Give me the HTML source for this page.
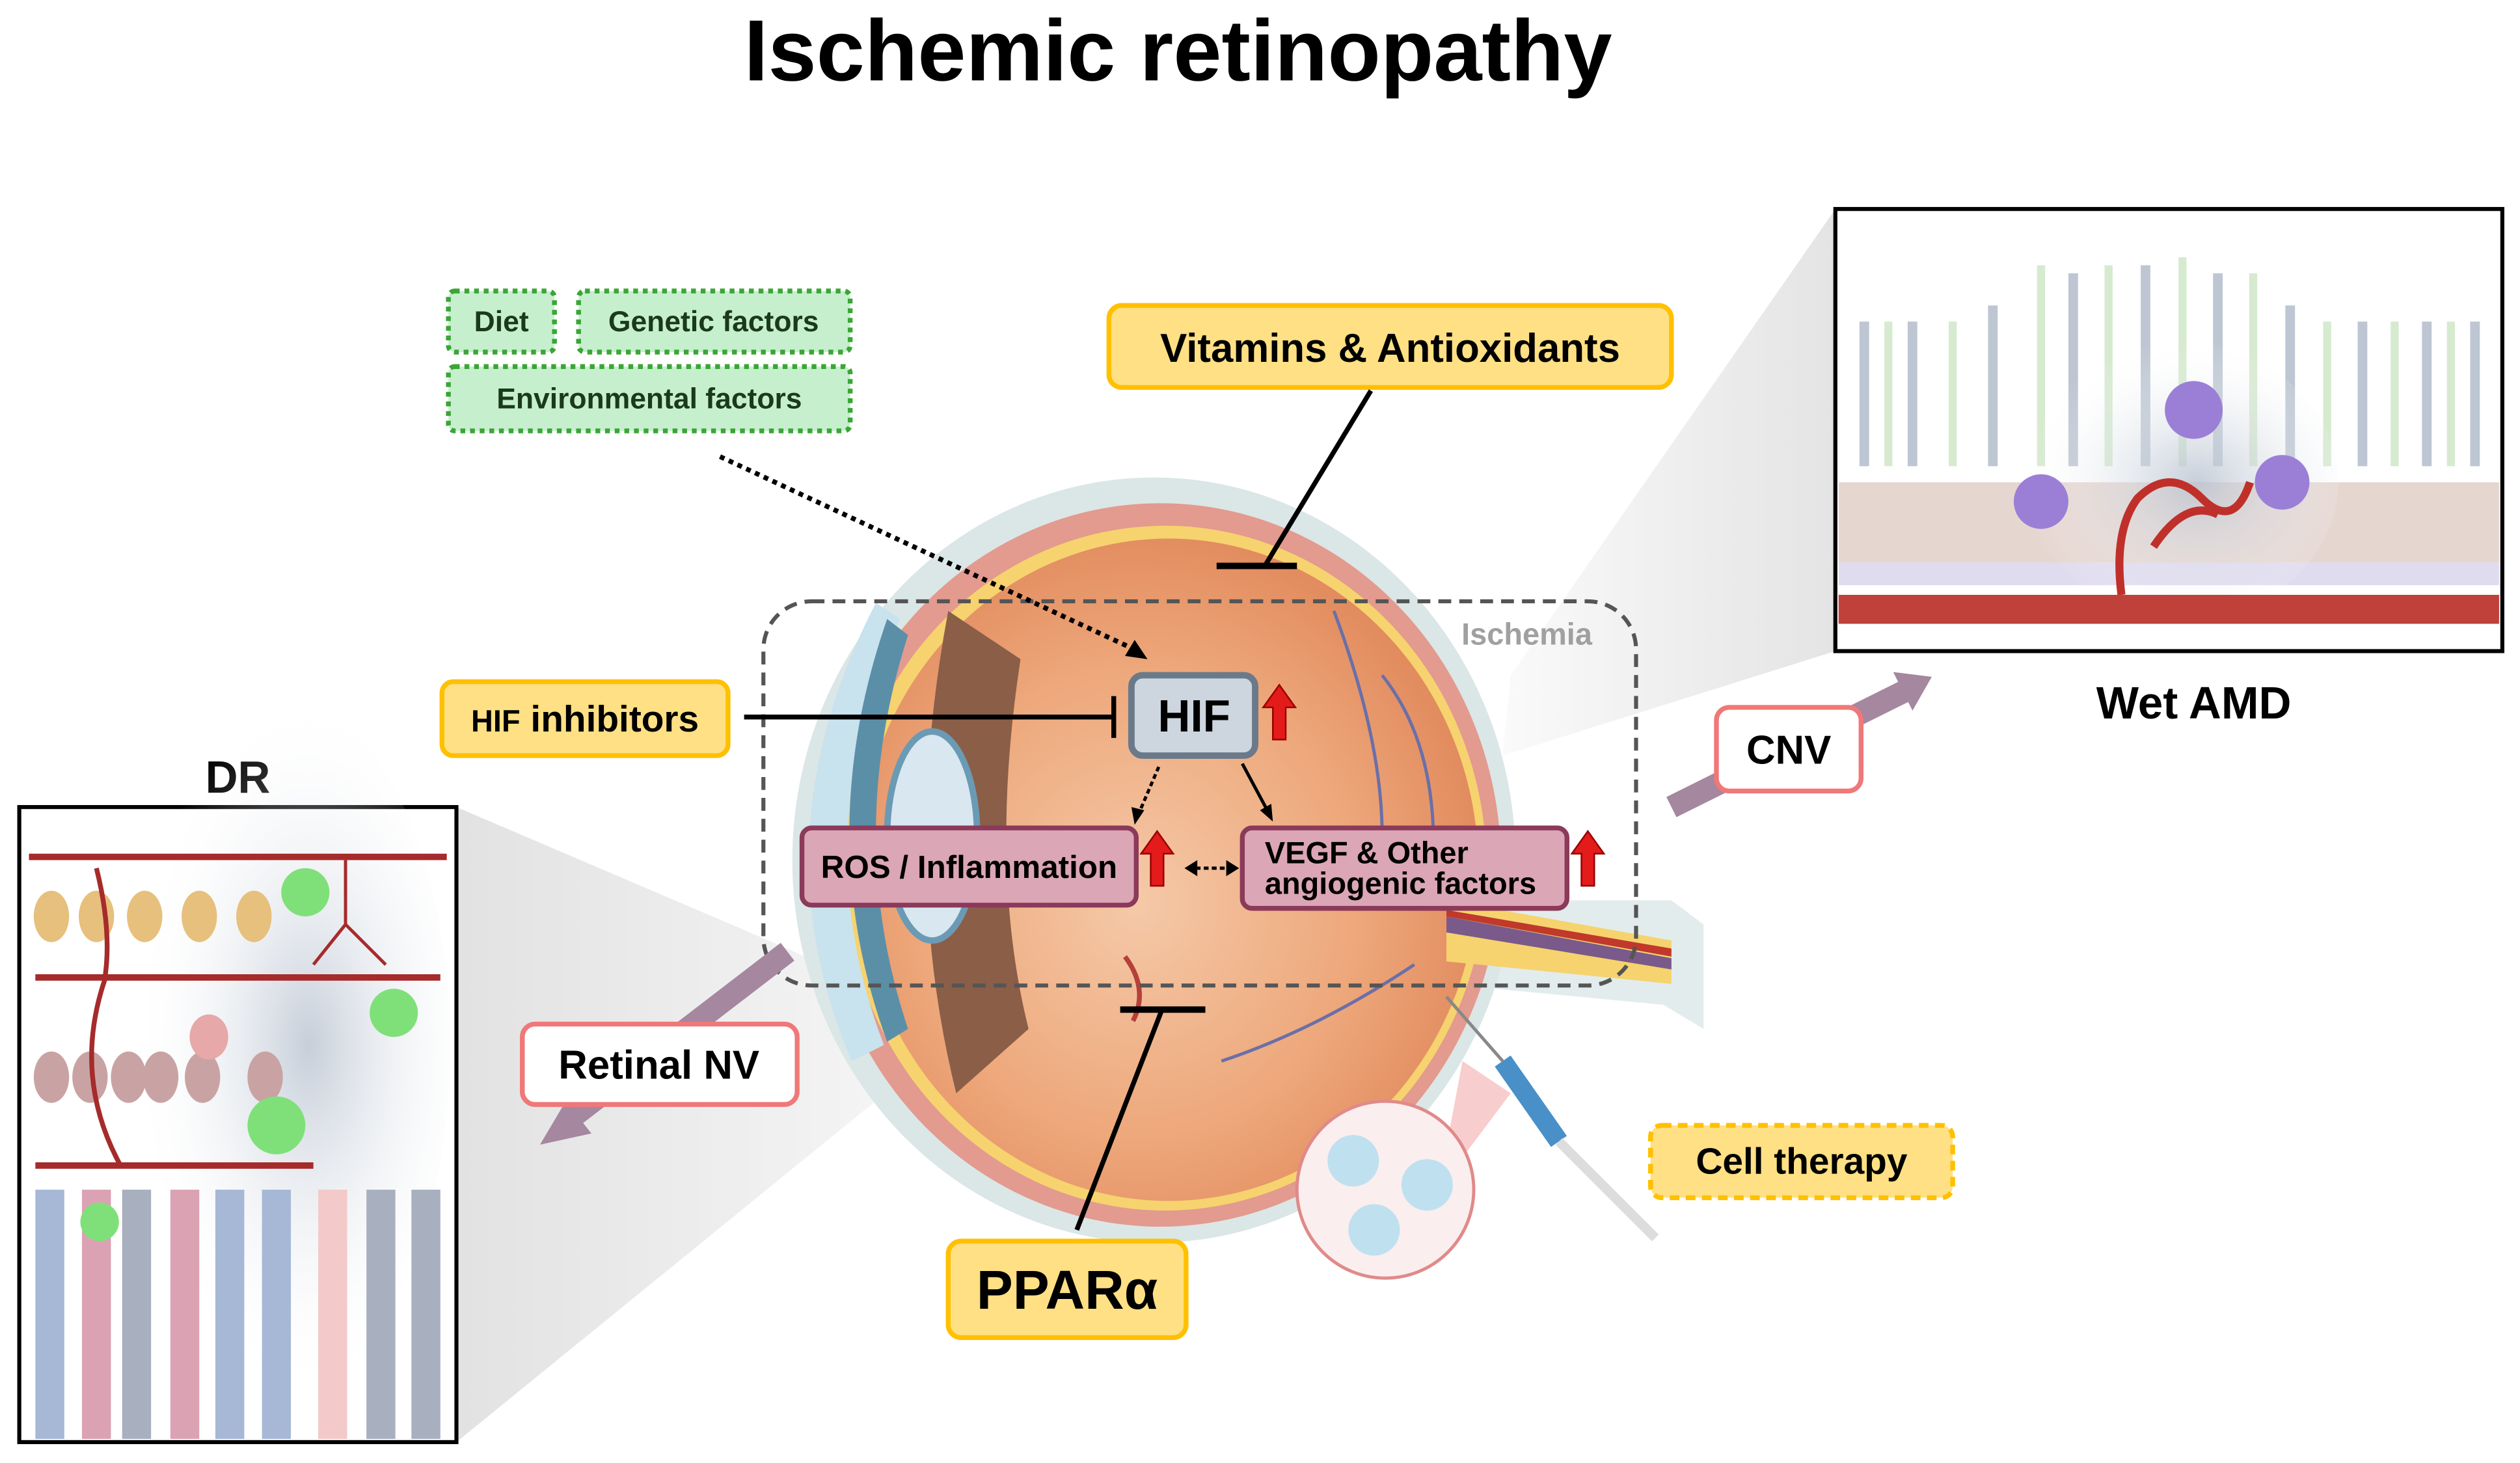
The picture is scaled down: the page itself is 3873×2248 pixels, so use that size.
<!DOCTYPE html>
<html><head><meta charset="utf-8">
<style>
html,body{margin:0;padding:0;background:#fff;}
svg{display:block;}
text{font-family:"Liberation Sans",Arial,sans-serif;font-weight:bold;}
</style></head>
<body>
<svg width="3873" height="2248" viewBox="0 0 1568 910" preserveAspectRatio="none" xmlns="http://www.w3.org/2000/svg">
<defs>
<radialGradient id="eyeIn" cx="0.45" cy="0.55" r="0.6">
<stop offset="0" stop-color="#f5c9a8"/><stop offset="0.6" stop-color="#eda77a"/><stop offset="1" stop-color="#e0875a"/>
</radialGradient>
<linearGradient id="wedgeL" x1="0" x2="1"><stop offset="0" stop-color="#e2e2e2"/><stop offset="1" stop-color="#f8f8f8"/></linearGradient>
<linearGradient id="wedgeR" x1="0" x2="1"><stop offset="0" stop-color="#fafafa"/><stop offset="1" stop-color="#e4e4e4"/></linearGradient>
<radialGradient id="haze" cx="0.6" cy="0.5" r="0.5"><stop offset="0" stop-color="#b8c2d0" stop-opacity="0.8"/><stop offset="1" stop-color="#fff" stop-opacity="0"/></radialGradient>
</defs>

<text x="733" y="50" font-size="54" text-anchor="middle" fill="#000">Ischemic retinopathy</text>

<polygon points="284,502 284,897 600,640 490,590" fill="url(#wedgeL)"/>
<polygon points="1142,130 1142,405 935,470 940,420" fill="url(#wedgeR)"/>

<g>
<path d="M1040,560 L1060,575 L1060,640 L1035,625 L930,615 L930,560 Z" fill="#e3ecec"/>
<ellipse cx="718" cy="535" rx="225" ry="238" fill="#dbe6e6"/>
<ellipse cx="722" cy="538" rx="212" ry="225" fill="#e39a8f"/>
<ellipse cx="725" cy="540" rx="200" ry="213" fill="#f6d36e"/>
<ellipse cx="727" cy="541" rx="193" ry="206" fill="url(#eyeIn)"/>
<path d="M900,560 L1040,585 L1040,612 L900,598 Z" fill="#f6d36e"/>
<path d="M900,570 L1040,596 L1040,603 L900,580 Z" fill="#7a5a8a"/>
<path d="M900,566 L1040,590 L1040,595 L900,570 Z" fill="#c0392b"/>
<path d="M545,375 Q470,520 530,660 L550,650 Q500,520 560,385 Z" fill="#c8e2ee"/>
<path d="M552,385 Q505,520 552,648 L565,640 Q525,520 565,395 Z" fill="#5b8fa8"/>
<path d="M590,380 Q560,540 595,680 L640,640 Q615,540 635,410 Z" fill="#8b5e48"/>
<ellipse cx="580" cy="520" rx="28" ry="65" fill="#d8e7f0" stroke="#6b9ab5" stroke-width="4"/>
<path d="M700,595 q15,20 5,40" stroke="#b5403a" stroke-width="3" fill="none"/>
<path d="M830,380 Q860,460 860,520 M860,420 Q900,470 890,560 M880,600 Q820,640 760,660" stroke="#6b6fa8" stroke-width="2" fill="none"/>
</g>

<rect x="475" y="374" width="543" height="239" rx="30" fill="none" stroke="#555" stroke-width="2.5" stroke-dasharray="8,5"/>
<text x="950" y="401" font-size="19" fill="#a0a0a0" text-anchor="middle" font-weight="normal">Ischemia</text>

<g stroke="#3aa635" stroke-width="3" stroke-dasharray="3,3" fill="#c6efce">
<rect x="279" y="181" width="66" height="38" rx="4"/>
<rect x="360" y="181" width="169" height="38" rx="4"/>
<rect x="279" y="228" width="250" height="40" rx="4"/>
</g>
<g font-size="18" fill="#1a3a1a" text-anchor="middle">
<text x="312" y="206">Diet</text>
<text x="444" y="206">Genetic factors</text>
<text x="404" y="254">Environmental factors</text>
</g>
<line x1="448" y1="284" x2="706" y2="404" stroke="#000" stroke-width="3" stroke-dasharray="3,3"/>
<polygon points="714,410 700,408 706,398" fill="#000"/>

<rect x="690" y="190" width="350" height="51" rx="8" fill="#ffe084" stroke="#ffc000" stroke-width="3"/>
<text x="865" y="225" font-size="25" text-anchor="middle">Vitamins &amp; Antioxidants</text>
<line x1="853" y1="243" x2="787" y2="352" stroke="#000" stroke-width="3"/>
<line x1="757" y1="352" x2="807" y2="352" stroke="#000" stroke-width="4"/>

<rect x="704" y="420" width="77" height="50" rx="7" fill="#cdd5de" stroke="#6b7a8a" stroke-width="4"/>
<text x="743" y="455" font-size="28" text-anchor="middle">HIF</text>
<polygon points="796,426 806,440 800,440 800,460 792,460 792,440 786,440" fill="#e31b1b" stroke="#900" stroke-width="1"/>
<rect x="275" y="424" width="178" height="46" rx="7" fill="#ffe084" stroke="#ffc000" stroke-width="3"/>
<text x="364" y="455" font-size="23" text-anchor="middle"><tspan font-size="19">HIF</tspan> inhibitors</text>
<line x1="463" y1="446" x2="693" y2="446" stroke="#000" stroke-width="3"/>
<line x1="693" y1="433" x2="693" y2="459" stroke="#000" stroke-width="3"/>

<line x1="721" y1="477" x2="709" y2="505" stroke="#000" stroke-width="2" stroke-dasharray="3,2"/>
<polygon points="706,513 704,502 712,504" fill="#000"/>
<line x1="773" y1="475" x2="788" y2="503" stroke="#000" stroke-width="2"/>
<polygon points="792,511 784,504 791,500" fill="#000"/>
<rect x="499" y="515" width="208" height="48" rx="6" fill="#dba6b6" stroke="#8b3a5a" stroke-width="3"/>
<text x="603" y="546" font-size="20" text-anchor="middle">ROS / Inflammation</text>
<polygon points="720,517 730,531 724,531 724,551 716,551 716,531 710,531" fill="#e31b1b" stroke="#900" stroke-width="1"/>
<line x1="744" y1="540" x2="764" y2="540" stroke="#000" stroke-width="2" stroke-dasharray="3,2"/>
<polygon points="737,540 745,535 745,545" fill="#000"/><polygon points="771,540 763,535 763,545" fill="#000"/>
<rect x="773" y="515" width="202" height="50" rx="6" fill="#dba6b6" stroke="#8b3a5a" stroke-width="3"/>
<text x="787" y="537" font-size="19">VEGF &amp; Other</text>
<text x="787" y="556" font-size="19">angiogenic factors</text>
<polygon points="988,517 998,531 992,531 992,551 984,551 984,531 978,531" fill="#e31b1b" stroke="#900" stroke-width="1"/>

<line x1="670" y1="765" x2="723" y2="628" stroke="#000" stroke-width="3"/>
<line x1="697" y1="628" x2="750" y2="628" stroke="#000" stroke-width="4"/>
<rect x="590" y="772" width="148" height="60" rx="8" fill="#ffe084" stroke="#ffc000" stroke-width="3"/>
<text x="664" y="814" font-size="34" text-anchor="middle">PPARα</text>

<polygon points="910,660 940,680 895,740" fill="#f5b8b8" opacity="0.7"/>
<circle cx="862" cy="740" r="55" fill="#fbeeee" stroke="#e08a8a" stroke-width="2"/>
<circle cx="842" cy="722" r="16" fill="#bfe0ef"/><circle cx="888" cy="737" r="16" fill="#bfe0ef"/><circle cx="855" cy="765" r="16" fill="#bfe0ef"/>
<line x1="900" y1="620" x2="935" y2="660" stroke="#888" stroke-width="2"/>
<line x1="935" y1="660" x2="970" y2="710" stroke="#4a90c8" stroke-width="12"/>
<line x1="970" y1="710" x2="1030" y2="770" stroke="#ddd" stroke-width="6"/>
<rect x="1027" y="700" width="188" height="45" rx="7" fill="#ffe084" stroke="#ffc000" stroke-width="3" stroke-dasharray="6,4"/>
<text x="1121" y="730" font-size="23" text-anchor="middle">Cell therapy</text>

<line x1="490" y1="592" x2="352" y2="698" stroke="#a5879f" stroke-width="14"/>
<polygon points="336,712 352,685 368,705" fill="#a5879f"/>
<rect x="325" y="637" width="171" height="50" rx="8" fill="#fff" stroke="#f07878" stroke-width="3"/>
<text x="410" y="671" font-size="25" text-anchor="middle">Retinal NV</text>

<line x1="1040" y1="502" x2="1185" y2="430" stroke="#a5879f" stroke-width="14"/>
<polygon points="1202,421 1178,418 1190,442" fill="#a5879f"/>
<rect x="1068" y="440" width="90" height="52" rx="8" fill="#fff" stroke="#f07878" stroke-width="3"/>
<text x="1113" y="475" font-size="25" text-anchor="middle">CNV</text>

<rect x="1142" y="130" width="415" height="275" fill="#fff" stroke="#000" stroke-width="2.5"/>
<g opacity="0.75">
<g stroke="#a7b4c4" stroke-width="6">
<line x1="1160" y1="200" x2="1160" y2="290"/><line x1="1190" y1="200" x2="1190" y2="290"/><line x1="1240" y1="190" x2="1240" y2="290"/>
<line x1="1290" y1="170" x2="1290" y2="290"/><line x1="1335" y1="165" x2="1335" y2="290"/><line x1="1380" y1="170" x2="1380" y2="290"/>
<line x1="1425" y1="190" x2="1425" y2="290"/><line x1="1470" y1="200" x2="1470" y2="290"/><line x1="1510" y1="200" x2="1510" y2="290"/><line x1="1540" y1="200" x2="1540" y2="290"/>
</g>
<g stroke="#c9e4bf" stroke-width="5">
<line x1="1175" y1="200" x2="1175" y2="290"/><line x1="1215" y1="200" x2="1215" y2="290"/><line x1="1270" y1="165" x2="1270" y2="290"/>
<line x1="1312" y1="165" x2="1312" y2="290"/><line x1="1358" y1="160" x2="1358" y2="290"/><line x1="1402" y1="170" x2="1402" y2="290"/>
<line x1="1448" y1="200" x2="1448" y2="290"/><line x1="1490" y1="200" x2="1490" y2="290"/><line x1="1525" y1="200" x2="1525" y2="290"/>
</g>
</g>
<rect x="1144" y="300" width="411" height="50" fill="#e6d6d0"/>
<rect x="1144" y="350" width="411" height="14" fill="#e0dcef"/>
<ellipse cx="1345" cy="300" rx="110" ry="90" fill="url(#haze)"/>
<path d="M1320,370 q-5,-40 10,-60 q20,-20 40,0 q20,20 30,-10 M1340,340 q20,-30 40,-20" stroke="#c0302a" stroke-width="5" fill="none"/>
<circle cx="1365" cy="255" r="18" fill="#9b7fd6"/><circle cx="1270" cy="312" r="17" fill="#9b7fd6"/><circle cx="1420" cy="300" r="17" fill="#9b7fd6"/>
<rect x="1144" y="370" width="411" height="18" fill="#c0403a"/>
<text x="1365" y="447" font-size="28" text-anchor="middle">Wet AMD</text>

<text x="148" y="493" font-size="28" text-anchor="middle">DR</text>
<rect x="12" y="502" width="272" height="395" fill="#fff" stroke="#000" stroke-width="2.5"/>
<ellipse cx="170" cy="650" rx="110" ry="220" fill="url(#haze)"/>
<g fill="#e6c07c"><ellipse cx="32" cy="570" rx="11" ry="16"/><ellipse cx="60" cy="570" rx="11" ry="16"/><ellipse cx="90" cy="570" rx="11" ry="16"/><ellipse cx="124" cy="570" rx="11" ry="16"/><ellipse cx="158" cy="570" rx="11" ry="16"/></g>
<g fill="#c9a3a3"><ellipse cx="32" cy="670" rx="11" ry="16"/><ellipse cx="56" cy="670" rx="11" ry="16"/><ellipse cx="80" cy="670" rx="11" ry="16"/><ellipse cx="100" cy="670" rx="11" ry="16"/><ellipse cx="126" cy="670" rx="11" ry="16"/><ellipse cx="165" cy="670" rx="11" ry="16"/><ellipse cx="130" cy="645" rx="12" ry="14" fill="#e6a8a8"/></g>
<g>
<rect x="22" y="740" width="18" height="155" fill="#a6b8d6"/><rect x="51" y="740" width="18" height="155" fill="#dba2b4"/>
<rect x="76" y="740" width="18" height="155" fill="#a8afbe"/><rect x="106" y="740" width="18" height="155" fill="#dba2b4"/>
<rect x="134" y="740" width="18" height="155" fill="#a6b8d6"/><rect x="163" y="740" width="18" height="155" fill="#a6b8d6"/>
<rect x="198" y="740" width="18" height="155" fill="#f3c9c9"/><rect x="228" y="740" width="18" height="155" fill="#a8afbe"/>
<rect x="256" y="740" width="18" height="155" fill="#a8afbe"/>
</g>
<g stroke="#a62b2b" stroke-width="4">
<line x1="18" y1="533" x2="278" y2="533"/><line x1="22" y1="608" x2="274" y2="608"/><line x1="22" y1="725" x2="195" y2="725"/>
<path d="M60,540 q10,40 5,70 q-20,60 10,115" fill="none" stroke-width="3"/>
</g>
<path d="M215,535 l0,40 M215,575 l-20,25 M215,575 l25,25" stroke="#a62b2b" stroke-width="2" fill="none"/>
<g fill="#7fe07a"><circle cx="190" cy="555" r="15"/><circle cx="245" cy="630" r="15"/><circle cx="172" cy="700" r="18"/><circle cx="62" cy="760" r="12"/></g>
</svg>
</body></html>
